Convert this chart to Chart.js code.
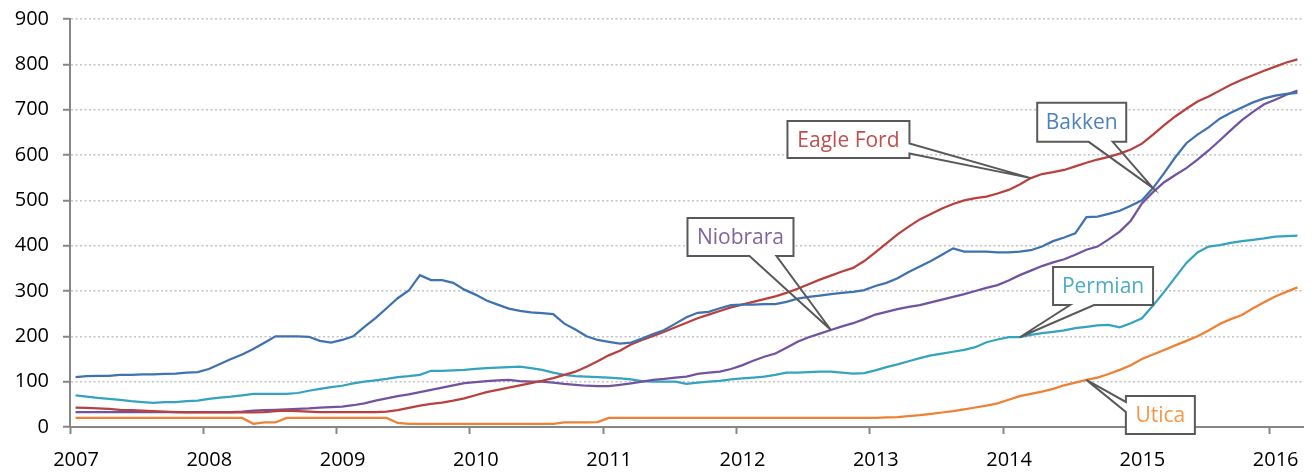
<!DOCTYPE html>
<html>
<head>
<meta charset="utf-8">
<script src="https://cdn.jsdelivr.net/npm/chart.js@4.4.0/dist/chart.umd.min.js"></script>
<style>
  html, body { margin: 0; padding: 0; background: #fff; }
  #wrap { width: 1316px; height: 473px; }
</style>
</head>
<body>
<div id="wrap"><canvas id="chart" width="1316" height="473"></canvas></div>
<script>
// ===== Data =====
// Monthly values, Jan 2007 - Mar 2016
const START_YEAR = 2007;
const xTicks = [2007, 2008, 2009, 2010, 2011, 2012, 2013, 2014, 2015, 2016];
const yTicks = [0, 100, 200, 300, 400, 500, 600, 700, 800, 900];

const bakken = [
  110,112,113,113,115,115,116,116,117,118,120,121,
  128,139,150,160,172,186,200,200,200,199,190,186,
  192,200,221,240,262,284,301,335,324,324,318,303,
  292,279,270,261,256,253,251,249,228,215,200,192,
  188,184,186,195,205,214,228,242,252,254,262,269,
  270,270,271,271,276,283,287,290,293,296,298,302,
  311,318,328,342,354,366,380,394,387,387,387,385,
  385,387,390,398,410,418,427,463,464,470,477,488,
  500,527,560,595,626,645,661,680,693,705,716,725,
  731,735,737
];
const eagleFord = [
  43,42,41,40,38,37,36,35,34,33,32,32,
  32,32,32,32,32,33,35,36,35,34,33,33,
  33,33,33,33,34,37,42,47,51,54,58,63,
  70,77,82,87,92,97,102,108,115,122,133,145,
  158,168,182,192,201,210,220,230,240,248,256,264,
  270,276,282,288,296,305,315,325,334,343,351,366,
  385,405,425,442,458,470,482,492,500,505,508,515,
  523,535,549,558,562,567,575,583,590,596,603,612,
  625,645,666,685,702,718,729,742,755,766,776,786,
  795,804,811
];
const niobrara = [
  33,33,33,33,33,33,33,33,33,33,33,33,
  33,33,33,34,36,37,38,39,40,41,43,44,
  45,48,52,58,63,68,72,77,82,87,92,97,
  99,101,103,104,101,100,100,98,95,93,91,90,
  90,93,96,100,104,106,109,111,117,120,122,128,
  136,146,155,162,175,188,198,206,214,222,229,238,
  248,254,260,265,269,275,281,287,293,300,307,313,
  323,335,345,355,363,370,380,391,398,414,431,455,
  493,518,540,556,571,590,610,632,655,677,695,712,
  722,733,742
];
const permian = [
  70,67,64,62,60,57,55,53,55,55,57,58,
  62,65,67,70,73,73,73,73,75,80,84,88,
  91,96,100,103,106,110,112,115,124,124,125,126,
  128,130,131,132,133,130,126,120,115,112,111,110,
  109,107,105,101,100,100,100,95,98,100,102,105,
  107,109,111,115,120,120,121,122,122,120,118,119,
  125,132,138,145,152,158,162,166,170,176,187,193,
  198,198,203,207,210,213,218,221,224,225,220,229,
  240,268,298,330,362,385,398,401,406,410,413,416,
  420,421,422
];
const utica = [
  20,20,20,20,20,20,20,20,20,20,20,20,
  20,20,20,20,7,10,10,20,20,20,20,20,
  20,20,20,20,20,9,7,7,7,7,7,7,
  7,7,7,7,7,7,7,7,10,10,10,11,
  20,20,20,20,20,20,20,20,20,20,20,20,
  20,20,20,20,20,20,20,20,20,20,20,20,
  20,21,22,24,26,29,32,35,39,43,47,52,
  60,68,73,78,84,92,98,104,109,117,126,136,
  150,160,170,180,190,200,213,227,238,247,262,275,
  288,298,308
];

// posicao de cada mes no eixo (meio do mes)
const months = bakken.map((_, i) => START_YEAR + (i + 0.5) / 12);

const seriesNames = ['Bakken', 'Eagle Ford', 'Niobrara', 'Permian', 'Utica'];
const seriesValues = [bakken, eagleFord, niobrara, permian, utica];
const lineColors = ['#3F72B0', '#B8413E', '#7153A0', '#35A3BF', '#EE8133'];
const textColors = ['#4F81BD', '#C0504D', '#8064A2', '#4BACC6', '#F79646'];

// ===== Callouts =====
// at = centro da caixa (ano, valor); month = ponto da serie onde a seta encosta
const callouts = [
  { s: 1, month: 86, at: [2012.84, 634], w: 122, h: 37, side: 'right',  base: [4, 14] },
  { s: 0, month: 97, at: [2014.59, 672], w: 89,  h: 39, side: 'bottom', base: [7, 31] },
  { s: 2, month: 68, at: [2012.03, 419], w: 106, h: 38, side: 'bottom', base: [9, 36] },
  { s: 3, month: 85, at: [2014.75, 311], w: 100, h: 38, side: 'bottom', base: [-33, -9] },
  { s: 4, month: 91, at: [2015.18, 26.5], w: 69, h: 38, side: 'left',   base: [-13, -3] }
];

const FONT = '"Open Sans", "DejaVu Sans", sans-serif';

const calloutPlugin = {
  id: 'callouts',
  afterDatasetsDraw(chart) {
    const { ctx, scales: { x, y } } = chart;
    ctx.save();
    callouts.forEach(c => {
      const tx = x.getPixelForValue(months[c.month]);
      const ty = y.getPixelForValue(seriesValues[c.s][c.month]);
      const cx = x.getPixelForValue(c.at[0]);
      const cy = y.getPixelForValue(c.at[1]);
      const l = cx - c.w / 2, r = cx + c.w / 2, t = cy - c.h / 2, b = cy + c.h / 2;

      // fundo branco da caixa
      ctx.fillStyle = '#fff';
      ctx.fillRect(l, t, c.w, c.h);

      // contorno da caixa + seta (sem preencher a seta)
      ctx.beginPath();
      ctx.moveTo(l, t);
      ctx.lineTo(r, t);
      if (c.side === 'right') {
        ctx.lineTo(r, cy + c.base[0]);
        ctx.lineTo(tx, ty);
        ctx.lineTo(r, cy + c.base[1]);
      }
      ctx.lineTo(r, b);
      if (c.side === 'bottom') {
        ctx.lineTo(cx + c.base[1], b);
        ctx.lineTo(tx, ty);
        ctx.lineTo(cx + c.base[0], b);
      }
      ctx.lineTo(l, b);
      if (c.side === 'left') {
        ctx.lineTo(l, cy + c.base[1]);
        ctx.lineTo(tx, ty);
        ctx.lineTo(l, cy + c.base[0]);
      }
      ctx.closePath();
      ctx.strokeStyle = '#595959';
      ctx.lineWidth = 2;
      ctx.lineJoin = 'miter';
      ctx.stroke();

      // texto
      ctx.fillStyle = textColors[c.s];
      ctx.font = '21px ' + FONT;
      ctx.textAlign = 'center';
      ctx.textBaseline = 'middle';
      ctx.fillText(seriesNames[c.s], cx, cy + 1);
    });
    ctx.restore();
  }
};

function draw() {
  const ctx = document.getElementById('chart').getContext('2d');
  new Chart(ctx, {
    type: 'line',
    data: {
      datasets: seriesValues.map((vals, k) => ({
        label: seriesNames[k],
        data: vals.map((v, i) => ({ x: months[i], y: v })),
        borderColor: lineColors[k],
        borderWidth: 2.25,
        pointRadius: 0,
        tension: 0,
        fill: false
      }))
    },
    options: {
      responsive: false,
      animation: false,
      devicePixelRatio: 1,
      layout: { padding: { top: 19, right: 13, left: 0, bottom: 0 } },
      plugins: { legend: { display: false }, tooltip: { enabled: false } },
      scales: {
        x: {
          type: 'linear',
          min: 2007,
          max: 2016.25,
          afterBuildTicks: s => { s.ticks = xTicks.map(v => ({ value: v })); },
          afterFit: s => { s.height = 46; s.paddingLeft = 0; s.paddingRight = 0; },
          ticks: {
            callback: v => String(v),
            color: '#000',
            font: { family: FONT, size: 20 },
            labelOffset: 6,
            padding: 14,
            maxRotation: 0,
            autoSkip: false
          },
          grid: { drawOnChartArea: false, drawTicks: true, tickLength: 7, tickColor: '#868686', tickWidth: 2 },
          border: { color: '#868686', width: 2 }
        },
        y: {
          min: 0,
          max: 900,
          afterBuildTicks: s => { s.ticks = yTicks.map(v => ({ value: v })); },
          afterFit: s => { s.width = 70; s.paddingTop = 0; s.paddingBottom = 0; },
          ticks: {
            color: '#000',
            font: { family: FONT, size: 20 },
            padding: 14
          },
          grid: {
            color: '#C4C4C4',
            lineWidth: 1.5,
            tickLength: 7,
            tickColor: '#868686',
            tickWidth: 2,
            tickBorderDash: []
          },
          border: { color: '#868686', width: 2, dash: [2, 2.5] }
        }
      }
    },
    plugins: [calloutPlugin]
  });
}

if (document.fonts && document.fonts.load) {
  document.fonts.load('20px "Open Sans"').then(draw, draw);
} else {
  draw();
}
</script>
</body>
</html>
